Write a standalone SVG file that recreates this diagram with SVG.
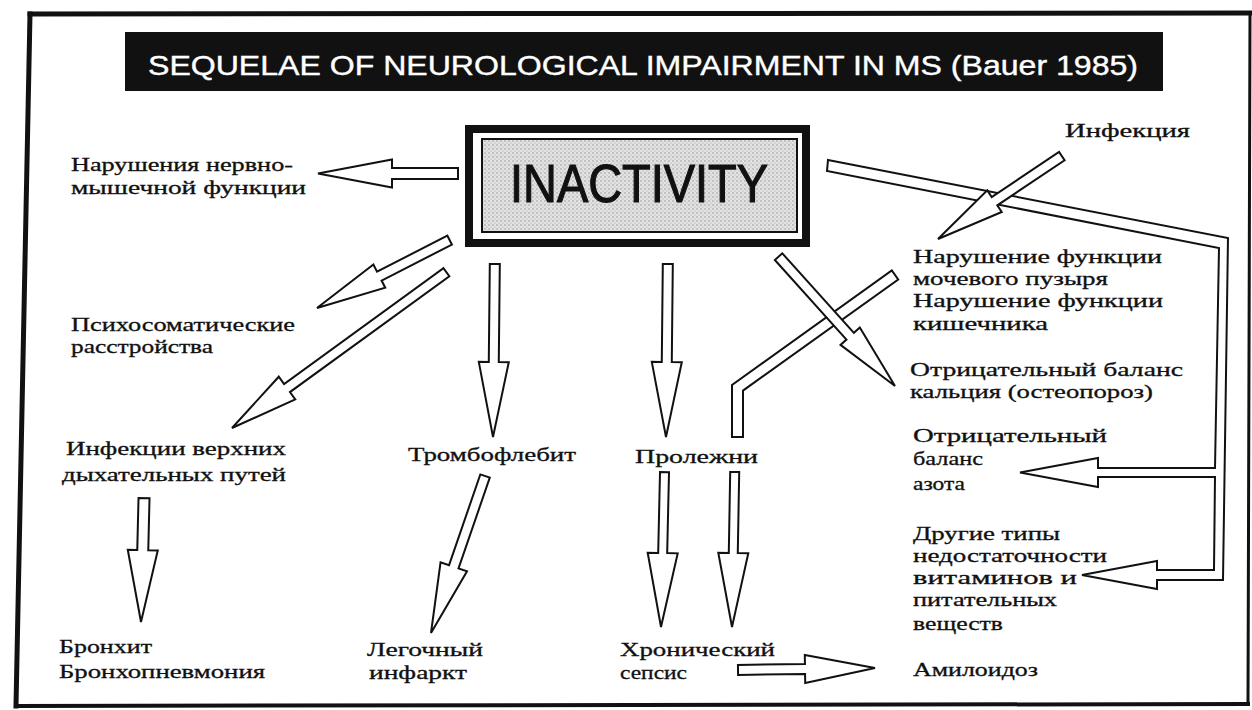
<svg xmlns="http://www.w3.org/2000/svg" width="1252" height="710" viewBox="0 0 1252 710">
<style>
.lbl{font-family:"Liberation Serif","DejaVu Serif",serif;font-size:19px;fill:#111;stroke:#111;stroke-width:0.3}
.arr{fill:#fff;stroke:#111;stroke-width:2;stroke-linejoin:miter}
.frame{stroke:#111;fill:none;stroke-linecap:square}
</style>
<defs>
<pattern id="stip" width="4" height="4" patternUnits="userSpaceOnUse">
<rect width="4" height="4" fill="#e2e2e2"/>
<circle cx="1" cy="1" r="0.7" fill="#8a8a8a"/>
<circle cx="3" cy="3" r="0.6" fill="#a8a8a8"/>
</pattern>
</defs>
<rect width="1252" height="710" fill="#fff"/>
<g id="frame">
<line class="frame" x1="30" y1="14" x2="1250" y2="13" stroke-width="5"/>
<line class="frame" x1="30" y1="14" x2="16" y2="706" stroke-width="5"/>
<line class="frame" x1="16" y1="706" x2="1248" y2="704" stroke-width="4"/>
<line class="frame" x1="1250" y1="13" x2="1248" y2="704" stroke-width="3"/>
</g>
<g id="title">
<rect x="125" y="32" width="1038" height="59" fill="#111"/>
<text x="148" y="75" font-family="Liberation Sans, Arial, sans-serif" font-size="28" fill="#fff" stroke="#fff" stroke-width="0.4" textLength="990" lengthAdjust="spacingAndGlyphs">SEQUELAE OF NEUROLOGICAL IMPAIRMENT IN MS (Bauer 1985)</text>
</g>
<g id="inactivity">
<rect x="469" y="129" width="337" height="114" fill="#fff" stroke="#111" stroke-width="8"/>
<rect x="482" y="139" width="315" height="93" fill="url(#stip)" stroke="#111" stroke-width="2"/>
<text x="510" y="202" font-family="Liberation Sans, Arial, sans-serif" font-size="54" fill="#111" stroke="#111" stroke-width="1.2" textLength="258" lengthAdjust="spacingAndGlyphs">INACTIVITY</text>
</g>
<g id="connectors">
<polygon class="arr" points="0,0 -74,-14 -74,-5.5 -140,-5.5 -140,5.5 -74,5.5 -74,14" transform="translate(318,173.5) rotate(180)"/>
<polygon class="arr" points="0,0 -70,-13 -70,-5 -149,-5 -149,5 -70,5 -70,13" transform="translate(317,308) rotate(152.9)"/>
<polygon class="arr" points="0,0 -68,-14 -68,-5 -265,-5 -265,5 -68,5 -68,14" transform="translate(232,428) rotate(144)"/>
<polygon class="arr" points="0,0 -75,-15 -75,-5 -173,-5 -173,5 -75,5 -75,15" transform="translate(493,437) rotate(90.6)"/>
<polygon class="arr" points="0,0 -75,-15 -75,-5 -173,-5 -173,5 -75,5 -75,15" transform="translate(666,437) rotate(90.6)"/>
<polygon class="arr" points="732,437 732,385 891.8,270.5 898.2,279.5 743,390.6 743,437"/>
<polygon class="arr" points="0,0 -67,-13 -67,-5 -174,-5 -174,5 -67,5 -67,13" transform="translate(895,386) rotate(48)"/>
<polygon class="arr" points="828,160 1228,238 1223,580 1157,580 1157,589 1082,575 1157,561 1157,570 1214,570 1215,477 1098,477 1098,487 1020,472.5 1098,458 1098,468 1215,468 1219,248 827,171"/>
<polygon class="arr" points="0,0 -68,-13 -68,-5 -149,-5 -149,5 -68,5 -68,13" transform="translate(938,239) rotate(146.2)"/>
<polygon class="arr" points="0,0 -72,-15 -72,-5.5 -124,-5.5 -124,5.5 -72,5.5 -72,15" transform="translate(141,622) rotate(91.4)"/>
<polygon class="arr" points="0,0 -70,-14 -70,-5 -166,-5 -166,5 -70,5 -70,14" transform="translate(431,633) rotate(109)"/>
<polygon class="arr" points="0,0 -74,-15 -74,-4.5 -155,-4.5 -155,4.5 -74,4.5 -74,15" transform="translate(661,627) rotate(91.3)"/>
<polygon class="arr" points="0,0 -74,-15 -74,-4.5 -155,-4.5 -155,4.5 -74,4.5 -74,15" transform="translate(732,627) rotate(91)"/>
<polygon class="arr" points="0,0 -70,-14 -70,-5 -137,-5 -137,5 -70,5 -70,14" transform="translate(875,668) rotate(-0.8)"/>
</g>
<g id="n-neuromuscular" class="lbl">
<text x="71" y="171" textLength="222" lengthAdjust="spacingAndGlyphs">Нарушения нервно-</text>
<text x="71" y="194" textLength="235" lengthAdjust="spacingAndGlyphs">мышечной функции</text>
</g>
<g id="n-psycho" class="lbl">
<text x="71" y="331" textLength="224" lengthAdjust="spacingAndGlyphs">Психосоматические</text>
<text x="71" y="353" textLength="142" lengthAdjust="spacingAndGlyphs">расстройства</text>
</g>
<g id="n-uri" class="lbl">
<text x="66" y="455" textLength="220" lengthAdjust="spacingAndGlyphs">Инфекции верхних</text>
<text x="62" y="481" textLength="224" lengthAdjust="spacingAndGlyphs">дыхательных путей</text>
</g>
<g id="n-thrombo" class="lbl">
<text x="408" y="461" textLength="168" lengthAdjust="spacingAndGlyphs">Тромбофлебит</text>
</g>
<g id="n-decubitus" class="lbl">
<text x="635" y="463" textLength="123" lengthAdjust="spacingAndGlyphs">Пролежни</text>
</g>
<g id="n-bronchitis" class="lbl">
<text x="59" y="653" textLength="93" lengthAdjust="spacingAndGlyphs">Бронхит</text>
<text x="59" y="678" textLength="206" lengthAdjust="spacingAndGlyphs">Бронхопневмония</text>
</g>
<g id="n-infarct" class="lbl">
<text x="367" y="656" textLength="116" lengthAdjust="spacingAndGlyphs">Легочный</text>
<text x="369" y="679" textLength="98" lengthAdjust="spacingAndGlyphs">инфаркт</text>
</g>
<g id="n-sepsis" class="lbl">
<text x="620" y="656" textLength="155" lengthAdjust="spacingAndGlyphs">Хронический</text>
<text x="620" y="679" textLength="67" lengthAdjust="spacingAndGlyphs">сепсис</text>
</g>
<g id="n-amyloid" class="lbl">
<text x="913" y="676" textLength="125" lengthAdjust="spacingAndGlyphs">Амилоидоз</text>
</g>
<g id="n-infection" class="lbl">
<text x="1065" y="137" textLength="125" lengthAdjust="spacingAndGlyphs">Инфекция</text>
</g>
<g id="n-bladder" class="lbl">
<text x="913" y="263" textLength="249" lengthAdjust="spacingAndGlyphs">Нарушение функции</text>
<text x="913" y="285" textLength="195" lengthAdjust="spacingAndGlyphs">мочевого пузыря</text>
<text x="913" y="307" textLength="250" lengthAdjust="spacingAndGlyphs">Нарушение функции</text>
<text x="913" y="330" textLength="135" lengthAdjust="spacingAndGlyphs">кишечника</text>
</g>
<g id="n-calcium" class="lbl">
<text x="910" y="376" textLength="273" lengthAdjust="spacingAndGlyphs">Отрицательный баланс</text>
<text x="910" y="398" textLength="243" lengthAdjust="spacingAndGlyphs">кальция (остеопороз)</text>
</g>
<g id="n-nitrogen" class="lbl">
<text x="913" y="442" textLength="194" lengthAdjust="spacingAndGlyphs">Отрицательный</text>
<text x="913" y="465" textLength="70" lengthAdjust="spacingAndGlyphs">баланс</text>
<text x="913" y="490" textLength="52" lengthAdjust="spacingAndGlyphs">азота</text>
</g>
<g id="n-vitamins" class="lbl">
<text x="913" y="540" textLength="147" lengthAdjust="spacingAndGlyphs">Другие типы</text>
<text x="913" y="562" textLength="194" lengthAdjust="spacingAndGlyphs">недостаточности</text>
<text x="913" y="584" textLength="164" lengthAdjust="spacingAndGlyphs">витаминов и</text>
<text x="913" y="606" textLength="144" lengthAdjust="spacingAndGlyphs">питательных</text>
<text x="913" y="630" textLength="90" lengthAdjust="spacingAndGlyphs">веществ</text>
</g>
</svg>
